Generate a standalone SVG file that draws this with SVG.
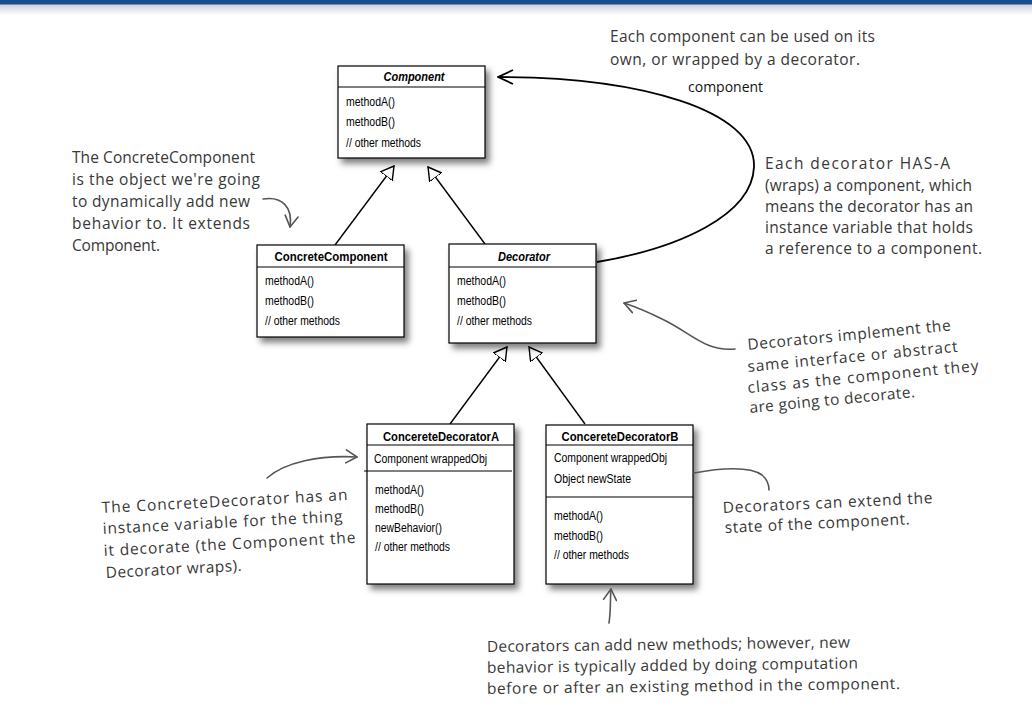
<svg xmlns="http://www.w3.org/2000/svg" width="1032" height="723" viewBox="0 0 1032 723">
<style>
.box{fill:#fff;stroke:#000;stroke-width:1.2}
.sep{stroke:#000;stroke-width:1.2}
.title{font-family:"Liberation Sans",Arial,sans-serif;font-size:12.5px;font-weight:bold;fill:#000;text-anchor:middle}
.ital{font-style:italic}
.m{font-family:"Liberation Sans",Arial,sans-serif;font-size:12px;fill:#000}
.hand{font-family:"Open Sans","Noto Sans",sans-serif;font-size:15.5px;fill:#383838}
.lbl{font-family:"Open Sans","Noto Sans",sans-serif;font-size:14px;fill:#111}
.inh{stroke:#000;stroke-width:1.4;fill:none;marker-end:url(#tri)}
.assoc{stroke:#000;stroke-width:1.8;fill:none;marker-end:url(#open)}
.note{stroke:#555;stroke-width:1.6;fill:none;stroke-linecap:round}
.noteArr{marker-end:url(#hand)}
</style>
<defs>
<filter id="shadow" x="-10%" y="-10%" width="130%" height="130%">
<feDropShadow dx="4" dy="5" stdDeviation="3" flood-color="#000" flood-opacity="0.5"/>
</filter>
<linearGradient id="topfade" x1="0" y1="0" x2="0" y2="1">
<stop offset="0" stop-color="#c9ced6"/>
<stop offset="1" stop-color="#ffffff"/>
</linearGradient>
<marker id="tri" viewBox="0 0 14 16" refX="13" refY="8" markerWidth="14" markerHeight="16" markerUnits="userSpaceOnUse" orient="auto">
<path d="M13,8 L0,0.5 L0,15.5 Z" fill="#fff" stroke="#000" stroke-width="1.4" stroke-linejoin="miter"/>
</marker>
<marker id="open" viewBox="0 0 17 16" refX="16" refY="8" markerWidth="17" markerHeight="16" markerUnits="userSpaceOnUse" orient="auto">
<path d="M1,1 L16,8 L1,15" fill="none" stroke="#000" stroke-width="1.8"/>
</marker>
<marker id="hand" viewBox="0 0 13 15" refX="12" refY="7.5" markerWidth="13" markerHeight="15" markerUnits="userSpaceOnUse" orient="auto">
<path d="M1,1 L12,7.5 L1,14" fill="none" stroke="#555" stroke-width="1.6" stroke-linecap="round" stroke-linejoin="round"/>
</marker>
</defs>

<rect x="0" y="0" width="1032" height="723" fill="#fff"/>
<g id="topbar">
<rect x="0" y="4" width="1032" height="11" fill="url(#topfade)"/>
<rect x="0" y="0" width="1032" height="4.5" fill="#1d4c8a"/>
</g>

<g id="connectors">
<path class="inh" d="M335,245 L394,166"/>
<path class="inh" d="M485,244 L428,167"/>
<path class="inh" d="M450,424 L507,347"/>
<path class="inh" d="M585,424 L529,347"/>
<path class="assoc" d="M597,262 C680,248 752,215 754,167 C756,110 640,77 498,77"/>
<text class="lbl" x="688" y="92">component</text>
</g>

<g id="node-component">
<rect class="box" x="338" y="66" width="147" height="92" filter="url(#shadow)"/>
<line class="sep" x1="338" y1="87" x2="485" y2="87"/>
<text class="title ital" x="414" y="81" textLength="61" lengthAdjust="spacingAndGlyphs">Component</text>
<text class="m" x="346" y="105.5" textLength="49" lengthAdjust="spacingAndGlyphs">methodA()</text>
<text class="m" x="346" y="126" textLength="49" lengthAdjust="spacingAndGlyphs">methodB()</text>
<text class="m" x="346" y="147" textLength="75" lengthAdjust="spacingAndGlyphs">// other methods</text>
</g>

<g id="node-concretecomponent">
<rect class="box" x="257" y="245" width="147" height="92" filter="url(#shadow)"/>
<line class="sep" x1="257" y1="267" x2="404" y2="267"/>
<text class="title" x="331" y="261" textLength="113" lengthAdjust="spacingAndGlyphs">ConcreteComponent</text>
<text class="m" x="265" y="285" textLength="49" lengthAdjust="spacingAndGlyphs">methodA()</text>
<text class="m" x="265" y="305" textLength="49" lengthAdjust="spacingAndGlyphs">methodB()</text>
<text class="m" x="265" y="325" textLength="75" lengthAdjust="spacingAndGlyphs">// other methods</text>
</g>

<g id="node-decorator">
<rect class="box" x="449" y="244" width="147" height="99" filter="url(#shadow)"/>
<line class="sep" x1="449" y1="267" x2="596" y2="267"/>
<text class="title ital" x="524" y="261" textLength="52" lengthAdjust="spacingAndGlyphs">Decorator</text>
<text class="m" x="457" y="285" textLength="49" lengthAdjust="spacingAndGlyphs">methodA()</text>
<text class="m" x="457" y="305" textLength="49" lengthAdjust="spacingAndGlyphs">methodB()</text>
<text class="m" x="457" y="325" textLength="75" lengthAdjust="spacingAndGlyphs">// other methods</text>
</g>

<g id="node-decoratorA">
<rect class="box" x="367" y="424" width="147" height="160" filter="url(#shadow)"/>
<line class="sep" x1="367" y1="445" x2="514" y2="445"/>
<text class="title" x="441" y="441" textLength="116" lengthAdjust="spacingAndGlyphs">ConcereteDecoratorA</text>
<text class="m" x="374" y="463" textLength="113" lengthAdjust="spacingAndGlyphs">Component wrappedObj</text>
<line class="sep" x1="364" y1="471" x2="512" y2="471"/>
<text class="m" x="375" y="494" textLength="49" lengthAdjust="spacingAndGlyphs">methodA()</text>
<text class="m" x="375" y="513" textLength="49" lengthAdjust="spacingAndGlyphs">methodB()</text>
<text class="m" x="375" y="532" textLength="67" lengthAdjust="spacingAndGlyphs">newBehavior()</text>
<text class="m" x="375" y="551" textLength="75" lengthAdjust="spacingAndGlyphs">// other methods</text>
</g>

<g id="node-decoratorB">
<rect class="box" x="546" y="425" width="147" height="159" filter="url(#shadow)"/>
<line class="sep" x1="546" y1="445" x2="693" y2="445"/>
<text class="title" x="620" y="441" textLength="117" lengthAdjust="spacingAndGlyphs">ConcereteDecoratorB</text>
<text class="m" x="554" y="462" textLength="113" lengthAdjust="spacingAndGlyphs">Component wrappedObj</text>
<text class="m" x="554" y="483" textLength="77" lengthAdjust="spacingAndGlyphs">Object newState</text>
<line class="sep" x1="546" y1="497" x2="693" y2="497"/>
<text class="m" x="554" y="520" textLength="49" lengthAdjust="spacingAndGlyphs">methodA()</text>
<text class="m" x="554" y="540" textLength="49" lengthAdjust="spacingAndGlyphs">methodB()</text>
<text class="m" x="554" y="559" textLength="75" lengthAdjust="spacingAndGlyphs">// other methods</text>
</g>

<g id="note-concretecomponent">
<text class="hand" x="72" y="163" textLength="183">The ConcreteComponent</text>
<text class="hand" x="72" y="185" textLength="188">is the object we're going</text>
<text class="hand" x="72" y="207" textLength="178">to dynamically add new</text>
<text class="hand" x="72" y="229" textLength="178">behavior to. It extends</text>
<text class="hand" x="72" y="251" textLength="88">Component.</text>
<path class="note noteArr" d="M263,199 C282,196 293,207 290,227"/>
</g>

<g id="note-each-component">
<text class="hand" x="610" y="42" textLength="265">Each component can be used on its</text>
<text class="hand" x="610" y="65" textLength="250">own, or wrapped by a decorator.</text>
</g>

<g id="note-has-a">
<text class="hand" x="765" y="169" textLength="185">Each decorator HAS-A</text>
<text class="hand" x="765" y="191" textLength="207">(wraps) a component, which</text>
<text class="hand" x="765" y="212" textLength="208">means the decorator has an</text>
<text class="hand" x="765" y="233" textLength="208">instance variable that holds</text>
<text class="hand" x="765" y="254" textLength="217">a reference to a component.</text>
</g>

<g id="note-implement">
<text class="hand" x="748" y="350" textLength="204" transform="rotate(-5.5 748 350)">Decorators implement the</text>
<text class="hand" x="748" y="372" textLength="211" transform="rotate(-5.5 748 372)">same interface or abstract</text>
<text class="hand" x="748" y="393" textLength="232" transform="rotate(-5.5 748 393)">class as the component they</text>
<text class="hand" x="750" y="413" textLength="166" transform="rotate(-5.5 750 413)">are going to decorate.</text>
<path class="note noteArr" d="M735,349 C705,352 690,332 662,319 C648,312 636,307 624,303"/>
</g>

<g id="note-concretedecorator">
<text class="hand" x="102" y="513" textLength="246" transform="rotate(-3 102 513)">The ConcreteDecorator has an</text>
<text class="hand" x="103" y="534" textLength="240" transform="rotate(-3 103 534)">instance variable for the thing</text>
<text class="hand" x="104" y="556" textLength="252" transform="rotate(-3 104 556)">it decorate (the Component the</text>
<text class="hand" x="106" y="578" textLength="136" transform="rotate(-3 106 578)">Decorator wraps).</text>
<path class="note noteArr" d="M267,478 C285,462 320,455 357,457"/>
</g>

<g id="note-extend-state">
<text class="hand" x="723" y="513" textLength="210" transform="rotate(-2.7 723 513)">Decorators can extend the</text>
<text class="hand" x="725" y="533" textLength="185" transform="rotate(-2.7 725 533)">state of the component.</text>
<path class="note" d="M694,473 C720,468 750,466 762,475 C768,480 769,486 769,490"/>
</g>

<g id="note-new-methods">
<text class="hand" x="487" y="652" textLength="363" transform="rotate(-0.7 487 652)">Decorators can add new methods; however, new</text>
<text class="hand" x="487" y="673" textLength="371" transform="rotate(-0.7 487 673)">behavior is typically added by doing computation</text>
<text class="hand" x="487" y="694" textLength="413" transform="rotate(-0.7 487 694)">before or after an existing method in the component.</text>
<path class="note noteArr" d="M609,623 C611,610 610,600 611,589"/>
</g>
</svg>
